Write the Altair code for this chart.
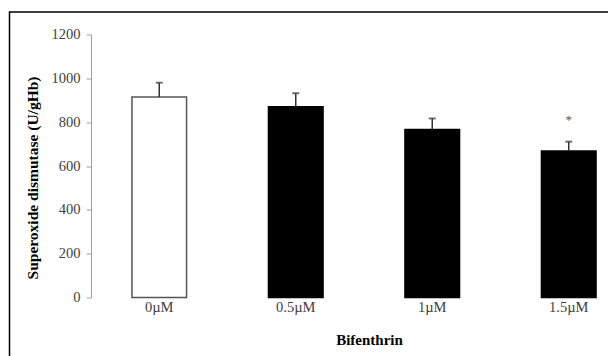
import altair as alt
import pandas as pd

categories = ["0µM", "0.5µM", "1µM", "1.5µM"]
values = [915, 870, 767, 668]
errors = [65, 62, 50, 43]
marks = ["", "", "", "*"]
fills = ["white", "black", "black", "black"]
strokes = ["#555555", "#000000", "#000000", "#000000"]

df = pd.DataFrame({
    "dose": categories,
    "sod": values,
    "err": errors,
    "top": [v + e for v, e in zip(values, errors)],
    "sig": marks,
})

FONT = "Liberation Serif"

x = alt.X(
    "dose:N",
    sort=categories,
    scale=alt.Scale(range=[0, 546], paddingInner=0.6, paddingOuter=0.3),
    axis=alt.Axis(
        title="Bifenthrin",
        labelAngle=0,
        ticks=False,
        domain=False,
        labelPadding=3,
        labelFont=FONT,
        labelFontSize=14.5,
        labelColor="#404040",
        titleFont=FONT,
        titleFontSize=15,
        titleFontWeight="bold",
        titleColor="#000000",
        titleX=278,
        titleY=42,
        titleBaseline="middle",
    ),
)

y_axis = alt.Axis(
    title="Superoxide dismutase (U/gHb)",
    values=[0, 200, 400, 600, 800, 1000, 1200],
    format="d",
    grid=False,
    domainColor="#a0a0a0",
    tickColor="#a0a0a0",
    tickSize=5,
    labelPadding=6,
    labelFont=FONT,
    labelFontSize=14.5,
    labelColor="#404040",
    titleFont=FONT,
    titleFontSize=15.5,
    titleFontWeight="bold",
    titleColor="#000000",
    titleX=-59,
    titleY=143,
    titleBaseline="middle",
)

base = alt.Chart(df)

bars = base.mark_bar(strokeWidth=1.5).encode(
    x=x,
    y=alt.Y("sod:Q", scale=alt.Scale(domain=[0, 1200]), axis=y_axis),
    fill=alt.Fill("dose:N", sort=categories, scale=alt.Scale(domain=categories, range=fills), legend=None),
    stroke=alt.Stroke("dose:N", sort=categories, scale=alt.Scale(domain=categories, range=strokes), legend=None),
)

err_rule = base.mark_rule(color="#333333", strokeWidth=1.5).encode(
    x=alt.X("dose:N", sort=categories),
    y="sod:Q",
    y2="top:Q",
)

err_cap = base.mark_tick(color="#333333", thickness=2, size=7, orient="horizontal").encode(
    x=alt.X("dose:N", sort=categories),
    y="top:Q",
)

star = base.mark_text(font=FONT, fontSize=13, color="#555555", baseline="middle", dy=-22).encode(
    x=alt.X("dose:N", sort=categories),
    y="top:Q",
    text="sig:N",
)

frame_data = alt.Data(values=[{"k": 1}])
frame = alt.Chart(frame_data).mark_rect(fill="transparent", stroke="black", strokeWidth=1.5).encode(
    x=alt.value(-81.5), x2=alt.value(700), y=alt.value(-22.5), y2=alt.value(400)
)

chart = alt.layer(bars, err_rule, err_cap, star, frame).properties(
    width=517,
    height=263,
    autosize=alt.AutoSizeParams(type="none"),
    padding={"left": 91, "top": 34.5, "right": 0, "bottom": 58.5},
).configure(
    background="white",
    view=alt.ViewConfig(stroke="transparent", strokeWidth=0),
)

chart.save("out.html", embed_options={"renderer": "svg", "actions": False})
